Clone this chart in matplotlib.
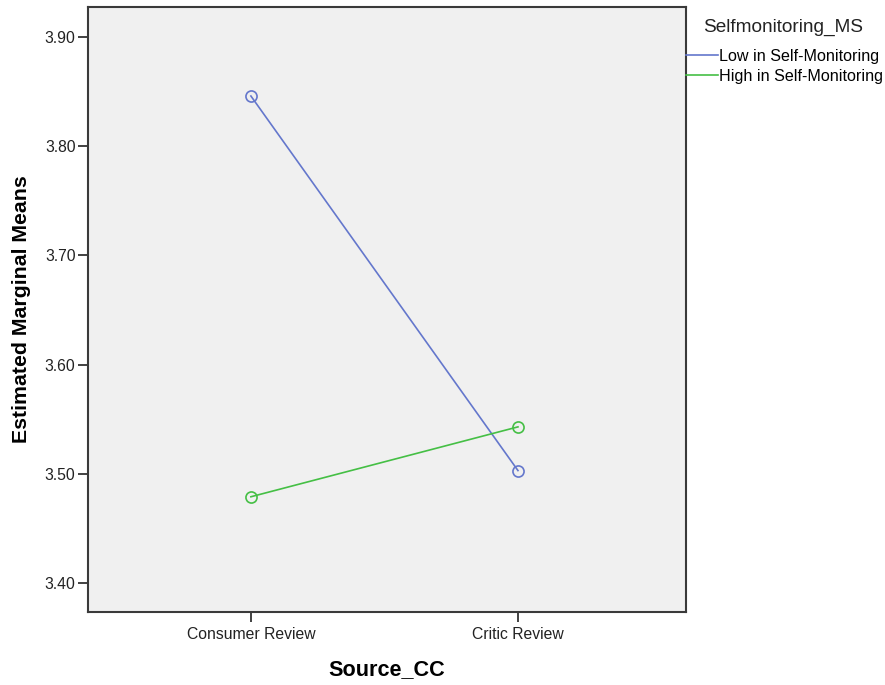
import numpy as np
import matplotlib.pyplot as plt

plt.rcParams['font.family'] = ['Liberation Sans', 'DejaVu Sans']

# estimated marginal means
sources = ['Consumer Review', 'Critic Review']
low_sm = [3.846, 3.503]
high_sm = [3.479, 3.543]
group_labels = ['Low in Self-Monitoring', 'High in Self-Monitoring']
yticks = [3.40, 3.50, 3.60, 3.70, 3.80, 3.90]


def main():
    fig = plt.figure(figsize=(8.85, 6.85), dpi=100)
    ax = fig.add_axes([0.0994, 0.1066, 0.6757, 0.8832])
    ax.set_facecolor('#f0f0f0')

    x = np.arange(len(sources))
    colors = ['#6477cc', '#45bf45']
    for vals, lab, c in zip([low_sm, high_sm], group_labels, colors):
        ax.plot(x, vals, color=c, lw=1.2, label=lab)
        ax.plot(x, vals, ls='none', marker='o', ms=8, mfc='none', mec=c, mew=1.2)

    ax.set_xlim(-0.610, 1.629)
    ax.set_ylim(3.3735, 3.9275)
    ax.set_xticks(x)
    ax.set_xticklabels(sources, fontsize=11.3, color='#222222')
    ax.set_yticks(yticks)
    ax.set_yticklabels(['%.2f' % t for t in yticks], fontsize=11.3, color='#222222')
    ax.tick_params(axis='both', length=7.5, width=1.3, color='#333333')
    ax.tick_params(axis='y', pad=1.5)
    ax.tick_params(axis='x', pad=3.5)

    for s in ax.spines.values():
        s.set_color('#3a3a3a')
        s.set_linewidth(1.5)

    ax.set_xlabel('Source_CC', fontsize=15.6, fontweight='bold', labelpad=12)
    ax.set_ylabel('Estimated Marginal Means', fontsize=15.3, fontweight='bold', labelpad=10)

    # legend sits to the right of the plot, title indented a bit
    fig.text(703 / 885, 1 - 27 / 685, 'Selfmonitoring_MS', ha='left', va='center',
             fontsize=13.7, color='#222222')
    ax.legend(loc='upper left', bbox_to_anchor=(686 / 885, 1 - 49 / 685),
              bbox_transform=fig.transFigure, frameon=False, fontsize=11.6,
              handlelength=2.0, handletextpad=0.05, borderaxespad=0.0,
              labelspacing=0.3, borderpad=0.0)

    fig.savefig('out.png', dpi=100)


if __name__ == '__main__':
    main()
